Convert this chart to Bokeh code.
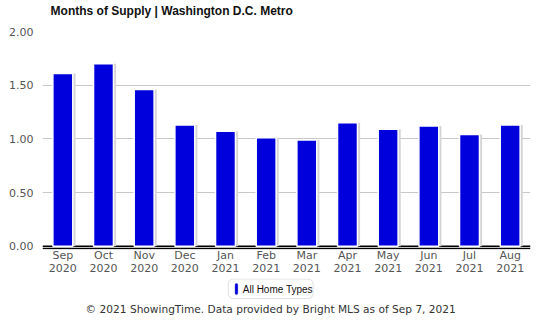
from bokeh.plotting import figure
from bokeh.layouts import column
from bokeh.models import (Range1d, FactorRange, FixedTicker, NumeralTickFormatter,
                          Span, BoxAnnotation, ColumnDataSource)
from bokeh.core.properties import value
from bokeh.transform import dodge
from bokeh.embed import file_html
from bokeh.resources import INLINE

title_text = "Months of Supply | Washington D.C. Metro"
months = ["Sep", "Oct", "Nov", "Dec", "Jan", "Feb", "Mar", "Apr", "May", "Jun", "Jul", "Aug"]
years = ["2020", "2020", "2020", "2020", "2021", "2021", "2021", "2021", "2021", "2021", "2021", "2021"]
supply = [1.61, 1.70, 1.46, 1.13, 1.07, 1.01, 0.99, 1.15, 1.09, 1.12, 1.04, 1.13]
y_ticks = [0.0, 0.5, 1.0, 1.5, 2.0]
series_name = "All Home Types"
footer_text = "\u00a9 2021 ShowingTime. Data provided by Bright MLS as of Sep 7, 2021"

BLUE = "#0000dc"
W = 541


def blank(height, shift):
    f = figure(width=W, height=height, x_range=Range1d(shift, shift + W),
               y_range=Range1d(height, 0),
               x_axis_type=None, y_axis_type=None, output_backend="svg",
               toolbar_location=None, min_border=0, min_border_left=0,
               min_border_right=0, min_border_top=0, min_border_bottom=0)
    f.outline_line_color = None
    f.background_fill_color = "white"
    f.border_fill_color = "white"
    return f


# ---- header (title) ----
head = blank(20, 0)
head.text(x=[9], y=[10], text=[title_text], text_font=value("Liberation Sans"),
          text_font_style="bold", text_font_size="12px", text_color="#111111",
          text_baseline="middle", text_align="left")

# ---- main chart ----
factors = [f"{m}\n{y}" for m, y in zip(months, years)]
src = ColumnDataSource(dict(x=factors, top=supply))

p = figure(width=W, height=258, x_range=FactorRange(*factors),
           y_range=Range1d(-0.03, 2.0), output_backend="svg", toolbar_location=None,
           min_border_left=42, min_border_right=11, min_border_top=11, min_border_bottom=29)
p.outline_line_color = None
p.background_fill_color = "white"
p.border_fill_color = "white"

p.xgrid.grid_line_color = None
p.ygrid.grid_line_color = "#c8c8c8"
p.ygrid.ticker = FixedTicker(ticks=y_ticks[1:])

p.yaxis.ticker = FixedTicker(ticks=y_ticks)
p.yaxis.formatter = NumeralTickFormatter(format="0.00")
for ax in (p.xaxis[0], p.yaxis[0]):
    ax.axis_line_color = None
    ax.major_tick_line_color = None
    ax.minor_tick_line_color = None
    ax.major_label_text_font = "DejaVu Sans"
    ax.major_label_text_font_size = "11px"
    ax.major_label_text_color = "#555555"
p.yaxis.major_label_standoff = 3
p.xaxis.major_label_standoff = -7
p.xaxis.major_label_text_line_height = 1.0

p.add_layout(Span(location=0, dimension="width", line_color="black", line_width=1.5, level="underlay"))
p.add_layout(Span(location=-0.02, dimension="width", line_color="black", line_width=1.5))

p.vbar(x=dodge("x", 0.06, range=p.x_range), top="top", bottom=0, width=0.5, source=src,
       fill_color="#d4d4d4", line_color=None)
p.vbar(x="x", top="top", bottom=0, width=0.49, source=src,
       fill_color=BLUE, line_color="white", line_width=1.5)

# ---- footer (legend + credit) ----
foot = blank(52, 17)
foot.add_layout(BoxAnnotation(left=223, right=317, top=0.5, bottom=20,
                              fill_color="white", fill_alpha=1.0, line_color="#999999",
                              line_width=1, border_radius=5, level="underlay"))
foot.add_layout(BoxAnnotation(left=230.5, right=233.5, top=5, bottom=16,
                              fill_color=BLUE, fill_alpha=1.0, line_color=BLUE,
                              line_width=1, border_radius=2, level="underlay"))
foot.text(x=[239], y=[10.5], text=[series_name], text_font=value("Liberation Sans"),
          text_font_size="10px", text_color="#111111",
          text_baseline="middle", text_align="left")
foot.text(x=[270], y=[30], text=[footer_text], text_font=value("DejaVu Sans"),
          text_font_size="10.6px", text_color="#333333",
          text_baseline="middle", text_align="center")

layout = column(head, p, foot, spacing=0)
open("out.html", "w").write(file_html(layout, INLINE))
